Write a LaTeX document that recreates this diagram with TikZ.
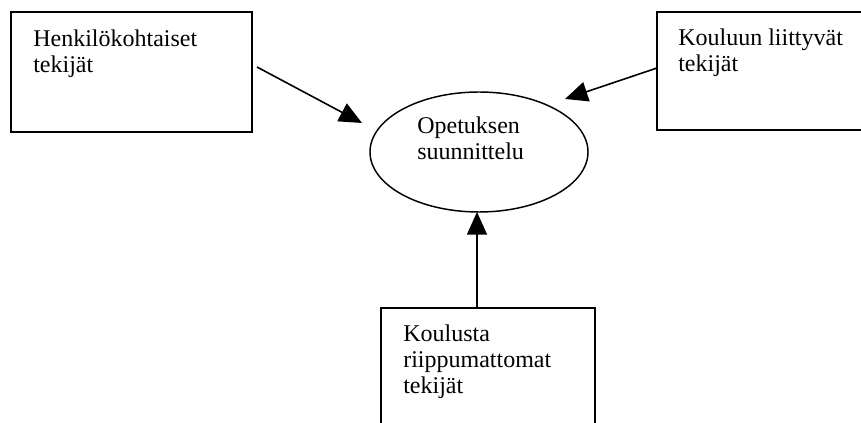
\documentclass[tikz,border=0pt]{standalone}
\usepackage{fontspec}
\setmainfont{Liberation Serif}
\usetikzlibrary{arrows.meta,shapes.geometric}
\begin{document}
\begin{tikzpicture}[x=0.75pt,y=-0.75pt,
  box/.style={draw, line width=1.1pt, rectangle, inner sep=0pt},
  goal/.style={draw, line width=1.1pt, ellipse, inner sep=0pt},
  lbl/.style={anchor=base west, inner sep=0pt, align=left,
    font=\fontsize{18}{19.5}\selectfont},
  link/.style={line width=1.2pt, -{Triangle[length=17pt,width=15pt]}}]
\useasboundingbox (0,0) rectangle (861,423);
\clip (0,0) rectangle (861,423);

% factor boxes
\node[box, minimum width=180.75pt, minimum height=90pt] (personal) at (131.5,72) {};
\node[box, minimum width=182.25pt, minimum height=88.5pt] (school) at (778.5,71) {};
\node[box, minimum width=160.5pt, minimum height=114pt] (external) at (488,384) {};

% central goal
\node[goal, minimum width=163.5pt, minimum height=90pt] (planning) at (479,152) {};

% labels (anchored at the baseline of their last line)
\node[lbl] (personalText) at (33,73) {Henkilökohtaiset\\tekijät};
\node[lbl] (schoolText) at (678,72) {Kouluun liittyvät\\tekijät};
\node[lbl] (externalText) at (403,394) {Koulusta\\riippumattomat\\tekijät};
\node[lbl] (planningText) at (417,160) {Opetuksen\\suunnittelu};

% arrow ends
\coordinate (pStart) at (257,67);
\coordinate (pTip) at (362,123);
\coordinate (sStart) at (657,68);
\coordinate (sTip) at (565,99);
\coordinate (eTip) at (477,212);

\draw[link] (pStart) -- (pTip);
\draw[link] (sStart) -- (sTip);
\draw[link] (external.north -| eTip) -- (eTip);
\end{tikzpicture}
\end{document}
